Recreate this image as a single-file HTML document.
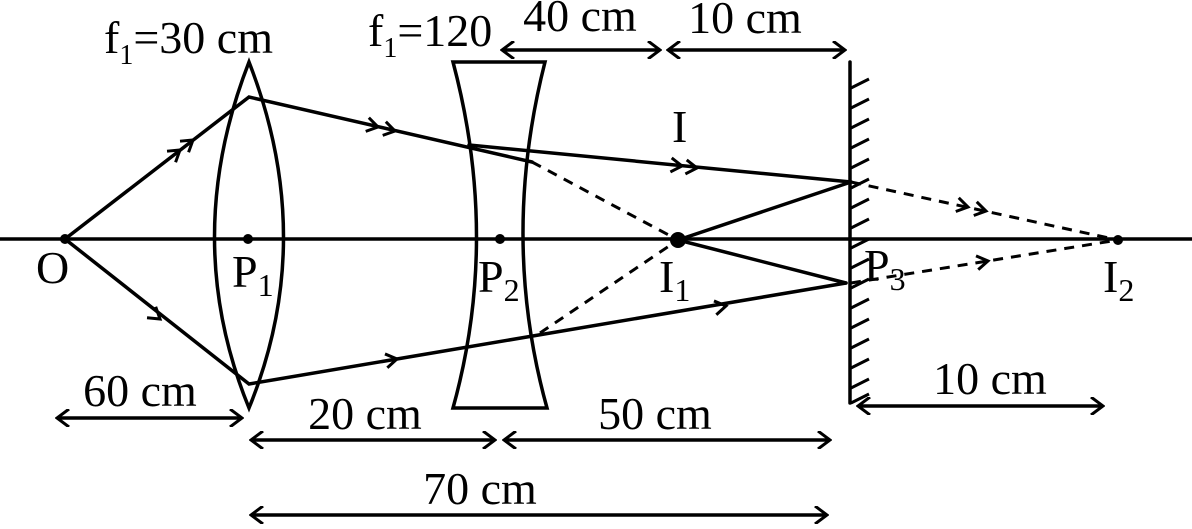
<!DOCTYPE html>
<html><head><meta charset="utf-8"><style>
html,body{margin:0;padding:0;background:#fff;}
svg{display:block;}
text{font-family:"Liberation Serif",serif;fill:#000;}
</style></head><body>
<svg width="1192" height="529" viewBox="0 0 1192 529" xmlns="http://www.w3.org/2000/svg">
<defs>
<marker id="a" viewBox="-14 -9 16 18" markerWidth="16" markerHeight="18" refX="0" refY="0" orient="auto-start-reverse" markerUnits="userSpaceOnUse">
<path d="M-12,-9 L0,0 L-12,9" fill="none" stroke="#000" stroke-width="3"/>
</marker>
</defs>
<g stroke="#000" stroke-width="3.5" fill="none" stroke-linecap="round">
<line x1="0" y1="239" x2="1192" y2="239"/>
<path d="M249,62 Q180,239 249,408 Q318,239 249,62 Z"/>
<path d="M453,62 L545,62 Q500,239 547,408 L453,408 Q500,239 453,62 Z"/>
<line x1="850" y1="62" x2="850" y2="403"/>
<polyline points="65,239 249,97 532,162"/>
<line x1="469" y1="145" x2="851" y2="182"/>
<polyline points="851,182 678,240 846,283"/>
<polyline points="65,239 249,384 846,283"/>
</g>
<g stroke="#000" stroke-width="3">
<path d="M851,88 l18,-9 M851,108 l18,-9 M851,128 l18,-9 M851,148 l18,-9 M851,168 l18,-9 M851,188 l18,-9 M851,208 l18,-9 M851,228 l18,-9 M851,248 l18,-9 M851,268 l18,-9 M851,288 l18,-9 M851,308 l18,-9 M851,328 l18,-9 M851,348 l18,-9 M851,368 l18,-9 M851,388 l18,-9 M851,403 l18,-9"/>
</g>
<g stroke="#000" stroke-width="3" stroke-dasharray="10,8" fill="none">
<line x1="532" y1="162" x2="678" y2="240"/>
<line x1="540" y1="333" x2="678" y2="240"/>
<line x1="851" y1="182" x2="1118" y2="240"/>
<line x1="851" y1="283" x2="1118" y2="240"/>
</g>
<g fill="#000">
<circle cx="65" cy="239" r="5"/>
<circle cx="248" cy="239" r="5"/>
<circle cx="500" cy="239" r="5"/>
<circle cx="678" cy="240" r="8"/>
<circle cx="1118" cy="240" r="5"/>
</g>
<g stroke="#000" stroke-width="3" fill="none">
<path d="M-11,-7 L0,0 L-11,7" transform="translate(180,150) rotate(-37.7)"/>
<path d="M-11,-7 L0,0 L-11,7" transform="translate(193,140) rotate(-37.7)"/>
<path d="M-11,-7 L0,0 L-11,7" transform="translate(378,127) rotate(12.9)"/>
<path d="M-11,-7 L0,0 L-11,7" transform="translate(395,131) rotate(12.9)"/>
<path d="M-11,-7 L0,0 L-11,7" transform="translate(682,166) rotate(5.5)"/>
<path d="M-11,-7 L0,0 L-11,7" transform="translate(697,168) rotate(5.5)"/>
<path d="M-11,-7 L0,0 L-11,7" transform="translate(968,207) rotate(12.2)"/>
<path d="M-11,-7 L0,0 L-11,7" transform="translate(986,211) rotate(12.2)"/>
<path d="M-11,-7 L0,0 L-11,7" transform="translate(160,319) rotate(38.2)"/>
<path d="M-11,-7 L0,0 L-11,7" transform="translate(397,359) rotate(-9.6)"/>
<path d="M-11,-7 L0,0 L-11,7" transform="translate(726,306) rotate(-9.6)"/>
<path d="M-11,-7 L0,0 L-11,7" transform="translate(988,261) rotate(-9.1)"/>
</g>
<g stroke="#000" stroke-width="3.5" fill="none">
<line x1="502" y1="50" x2="660" y2="50" marker-start="url(#a)" marker-end="url(#a)"/>
<line x1="668" y1="50" x2="845" y2="50" marker-start="url(#a)" marker-end="url(#a)"/>
<line x1="57" y1="418" x2="242" y2="418" marker-start="url(#a)" marker-end="url(#a)"/>
<line x1="251" y1="440" x2="495" y2="440" marker-start="url(#a)" marker-end="url(#a)"/>
<line x1="504" y1="440" x2="830" y2="440" marker-start="url(#a)" marker-end="url(#a)"/>
<line x1="251" y1="515" x2="827" y2="515" marker-start="url(#a)" marker-end="url(#a)"/>
<line x1="858" y1="406" x2="1103" y2="406" marker-start="url(#a)" marker-end="url(#a)"/>
</g>
<g font-size="46">
<text x="104" y="53">f<tspan font-size="28" dy="11">1</tspan><tspan dy="-11">=30 cm</tspan></text>
<text x="368" y="46">f<tspan font-size="28" dy="11">1</tspan><tspan dy="-11">=120</tspan></text>
<g text-anchor="middle">
<text x="580" y="31">40 cm</text>
<text x="745" y="33">10 cm</text>
<text x="140" y="406">60 cm</text>
<text x="365" y="429">20 cm</text>
<text x="655" y="429">50 cm</text>
<text x="480" y="504">70 cm</text>
<text x="990" y="394">10 cm</text>
</g>
<text x="672" y="142">I</text>
<text x="36" y="283">O</text>
<text x="232" y="287">P<tspan font-size="32" dy="9">1</tspan></text>
<text x="478" y="292">P<tspan font-size="32" dy="9">2</tspan></text>
<text x="659" y="292">I<tspan font-size="32" dy="9">1</tspan></text>
<text x="864" y="281">P<tspan font-size="32" dy="9">3</tspan></text>
<text x="1103" y="292">I<tspan font-size="32" dy="9">2</tspan></text>
</g>
</svg>
</body></html>
